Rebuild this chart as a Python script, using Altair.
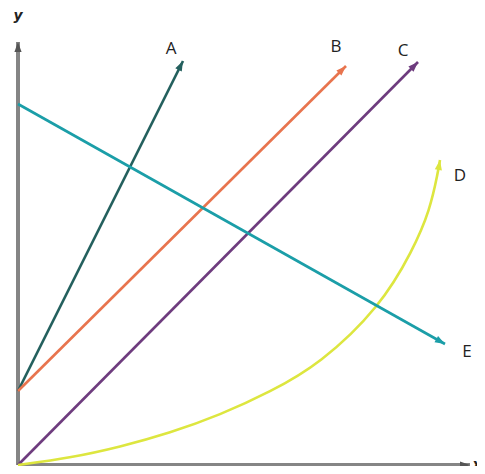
import math
import altair as alt
import pandas as pd

# ---- data ----
series_names = ["A", "B", "C", "D", "E"]
series_colors = ["#24605e", "#e8744e", "#6e3c7e", "#dde63f", "#1b9ea8"]

a_x = [0, 165]
a_y = [74, 404]
b_x = [0, 328]
b_y = [74, 399]
c_x = [0, 400]
c_y = [0, 403]
d_x = [0, 52, 102, 152, 202, 252, 302, 362, 395, 412, 420, 422]
d_y = [0, 7, 18, 32, 50, 73, 101, 158, 215, 255, 293, 305]
e_x = [0, 427]
e_y = [361, 121]

label_text = ["A", "B", "C", "D", "E"]
label_x = [153, 318, 385, 442, 449]
label_y = [416, 418, 414, 289, 113]

x_max = 452
y_max = 423

# ---- build tables ----
xs = [a_x, b_x, c_x, d_x, e_x]
ys = [a_y, b_y, c_y, d_y, e_y]
rows = []
heads = []
for name, sx, sy in zip(series_names, xs, ys):
    for i, (x, y) in enumerate(zip(sx, sy)):
        rows.append({"series": name, "i": i, "x": x, "y": y})
    dx = sx[-1] - sx[-2]
    dy = sy[-1] - sy[-2]
    ang = math.degrees(math.atan2(dx, dy)) % 360
    heads.append({"series": name, "x": sx[-1], "y": sy[-1], "angle": ang})
lines_df = pd.DataFrame(rows)
heads_df = pd.DataFrame(heads)
labels_df = pd.DataFrame({"text": label_text, "x": label_x, "y": label_y})

axes_df = pd.DataFrame({
    "axis": ["y", "y", "x", "x"],
    "i": [0, 1, 0, 1],
    "x": [0, 0, 0, x_max],
    "y": [0, y_max, 0, 0],
})
axis_heads_df = pd.DataFrame({"x": [0, x_max], "y": [y_max, 0], "angle": [0, 90]})
axis_labels_df = pd.DataFrame({"text": ["y", "x"], "x": [0, 459], "y": [449, 0]})

xs_scale = alt.Scale(domain=[0, x_max], nice=False, zero=False)
ys_scale = alt.Scale(domain=[0, y_max], nice=False, zero=False)
X = lambda: alt.X("x:Q", scale=xs_scale, axis=None)
Y = lambda: alt.Y("y:Q", scale=ys_scale, axis=None)
color = alt.Color("series:N", scale=alt.Scale(domain=series_names, range=series_colors), legend=None)

arrow_path = "M0,0L1.8,5L-1.8,5Z"

axes_layer = alt.Chart(axes_df).mark_line(color="#858585", strokeWidth=4).encode(
    x=X(), y=Y(), detail="axis:N", order="i:Q"
)
axis_heads = alt.Chart(axis_heads_df).mark_point(
    shape=arrow_path, filled=True, size=16, color="#555555", opacity=1
).encode(x=X(), y=Y(), angle=alt.Angle("angle:Q", scale=None))

lines = alt.Chart(lines_df).mark_line(strokeWidth=2.6, interpolate="basis").encode(
    x=X(), y=Y(), color=color, order="i:Q"
)
arrows = alt.Chart(heads_df).mark_point(
    shape=arrow_path, filled=True, size=16, opacity=1
).encode(x=X(), y=Y(), color=color, angle=alt.Angle("angle:Q", scale=None))

labels = alt.Chart(labels_df).mark_text(
    font="Open Sans", fontSize=17, color="#222222", align="center", baseline="middle"
).encode(x=X(), y=Y(), text="text:N")

axis_labels = alt.Chart(axis_labels_df).mark_text(
    font="DejaVu Sans", fontSize=14, fontStyle="italic", fontWeight="bold",
    color="#222222", align="center", baseline="middle"
).encode(x=X(), y=Y(), text="text:N")

chart = alt.layer(axes_layer, lines, arrows, axis_heads, labels, axis_labels).properties(
    width=x_max, height=y_max,
    autosize=alt.AutoSizeParams(type="none"),
    padding={"left": 10, "top": 34, "right": 7, "bottom": 1},
    background="white",
).configure_view(stroke=None)

chart.save("out.html", embed_options={"renderer": "svg", "actions": False})
